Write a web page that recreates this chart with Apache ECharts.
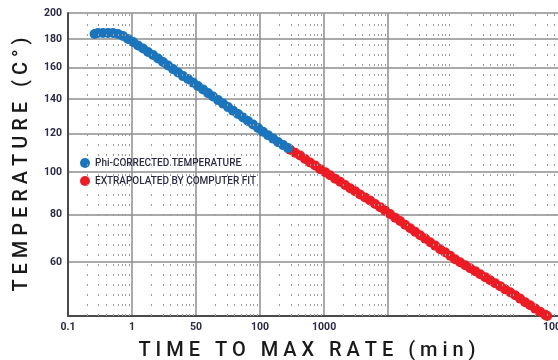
<!DOCTYPE html>
<html><head><meta charset="utf-8">
<script src="https://cdn.jsdelivr.net/npm/echarts@6/dist/echarts.min.js"></script>
<style>html,body{margin:0;padding:0;background:#fff}#c{width:558px;height:360px}</style>
</head><body><div id="c"></div>
<script>
// ---- data (time to max rate in minutes, temperature in °C) ----
const blueTime = [0.26,0.294,0.352,0.422,0.505,0.604,0.723,0.866,1.04,1.24,1.49,1.78,2.13,2.55,3.05,3.65,4.37,5.23,6.26,7.5,8.98,10.7,12.9,15.4,18.4,22.1,26.4,31.6,37.8,45.3,54.2,64.9,77.7,93,111,133,160,191,229,274];
const blueTemp = [183.8,184.5,184.5,184.5,184.5,183.8,182.3,180.1,177.9,175.4,173.3,170.8,168.7,166.3,163.9,161.5,159.1,156.8,154.5,152.6,150.3,148.1,145.9,143.7,141.6,139.4,137.3,135.2,133.1,131.1,129.1,127.1,125.1,123.1,121.1,119.2,117.3,115.4,113.8,112.2];
const redTime = [294,352,422,505,604,723,866,1040,1240,1490,1780,2130,2550,3050,3650,4370,5230,6270,7500,8980,10700,12900,15400,18400,22100,26400,31600,37900,45300,54200,64900,77700,93100,111000,133000,160000,191000,229000,274000,328000,392000,470000,562000,673000,806000,965000,1150000,1380000,1650000,1980000,2370000,2840000,3050000];
const redTemp = [111.4,109.8,108.3,106.5,104.7,103.2,101.4,99.9,98.4,96.7,95.2,93.6,92.1,90.7,89.1,87.7,86.3,84.7,83.3,81.7,80.2,78.6,77.1,75.5,74.0,72.5,71.0,69.6,68.1,66.7,65.2,64.0,62.6,61.2,60.0,58.8,57.6,56.5,55.3,54.2,53.0,51.9,50.8,49.6,48.5,47.4,46.2,44.9,43.8,42.6,41.5,40.4,40.0];
const seriesNames = ['Phi-CORRECTED TEMPERATURE','EXTRAPOLATED BY COMPUTER FIT'];
const yTickTemps = [200,180,160,140,120,100,80,60];
const yMinTemp = 40, yMaxTemp = 200;
const xTickTimes = [0.1,1,10,100,1000];
const xTickText = ['0.1','1','50','100','1000'];
const xEdgeText = '10000';
const xMinTime = 0.1, xMaxTime = 4.5e6;
const xMajorGridTimes = [0.1,1,10,100,1000,10000];
const minorMult = [2,3,4,5,6,7,8,9];

// ---- scale transforms (log time, reciprocal absolute temperature) ----
const tx = t => Math.log10(t);
const ty = T => -1000/(T+273.15);
const invY = v => -1000/v - 273.15;

const blueData = blueTime.map((t,i)=>[tx(t), ty(blueTemp[i])]);
const redData = redTime.map((t,i)=>[tx(t), ty(redTemp[i])]);

const minorLines = [];
for (let d=-1; d<=6; d++) for (const m of minorMult) {
  const v = tx(m*Math.pow(10,d));
  if (v < tx(xMaxTime)) minorLines.push({xAxis: v});
}

const labFont = 'Roboto, sans-serif';
const txtColor = '#2b2b47';

const chart = echarts.init(document.getElementById('c'), null, {renderer:'canvas'});
chart.setOption({
  animation: false,
  backgroundColor: '#fff',
  grid: {left: 68, right: 0, top: 13, bottom: 44, containLabel: false, outerBoundsMode: 'none'},
  legend: {
    data: seriesNames, orient: 'vertical', left: 80, top: 158, padding: 0,
    icon: 'circle', itemWidth: 10, itemHeight: 10, itemGap: 8,
    textStyle: {fontFamily: labFont, fontSize: 10, fontWeight: 500, color: txtColor, lineHeight: 10},
    selectedMode: false
  },
  xAxis: {
    type: 'value', min: tx(xMinTime), max: tx(xMaxTime),
    name: 'T I M E   T O   M A X   R A T E   ( m i n )',
    nameLocation: 'middle', nameGap: 25,
    nameTextStyle: {fontFamily: 'Roboto, sans-serif', fontSize: 20, fontWeight: 500, color: '#1a1a1a', padding:[0,12,0,0]},
    axisLine: {show: true, onZero: false, lineStyle: {color: '#4a4a4a', width: 2}},
    axisTick: {show: false, customValues: xMajorGridTimes.map(tx)},
    axisLabel: {
      customValues: xTickTimes.map(tx).concat([tx(xMaxTime)]),
      margin: 6, fontFamily: labFont, fontSize: 10.5, fontWeight: 'bold', color: txtColor,
      formatter: v => {
        for (let i=0;i<xTickTimes.length;i++) if (Math.abs(v-tx(xTickTimes[i]))<1e-6) return xTickText[i];
        if (Math.abs(v-tx(xMaxTime))<1e-6) return xEdgeText;
        return '';
      }
    },
    splitLine: {show: true, lineStyle: {color: '#8e8e8e', width: 1.5}}
  },
  yAxis: {
    type: 'value', min: ty(yMinTemp), max: ty(yMaxTemp),
    name: 'T E M P E R A T U R E   ( C ° )',
    nameLocation: 'middle', nameGap: 36, nameRotate: 90,
    nameTextStyle: {fontFamily: 'Roboto, sans-serif', fontSize: 20, fontWeight: 500, color: '#1a1a1a'},
    axisLine: {show: true, onZero: false, lineStyle: {color: '#4a4a4a', width: 2}},
    axisTick: {show: false, customValues: yTickTemps.map(ty)},
    axisLabel: {
      customValues: yTickTemps.map(ty),
      margin: 6, fontFamily: labFont, fontSize: 10.5, fontWeight: 'bold', color: txtColor,
      formatter: v => String(Math.round(invY(v)))
    },
    splitLine: {show: true, lineStyle: {color: '#8e8e8e', width: 1.5}}
  },
  series: [
    {
      type: 'line', data: [], z: 1, silent: true,
      markLine: {silent: true, symbol: ['none','none'], label: {show: false},
        lineStyle: {color: '#9a9a9a', width: 1, type: [2,8]}, emphasis: {disabled: true},
        data: minorLines}
    },
    {
      name: seriesNames[1], type: 'scatter', data: redData, symbolSize: 10, z: 3, clip: false,
      itemStyle: {color: '#ec1c24', opacity: 1}, emphasis: {disabled: true}
    },
    {
      name: seriesNames[0], type: 'scatter', data: blueData, symbolSize: 10, z: 4, clip: false,
      itemStyle: {color: '#1b75bc', opacity: 1}, emphasis: {disabled: true}
    }
  ]
});
</script></body></html>
